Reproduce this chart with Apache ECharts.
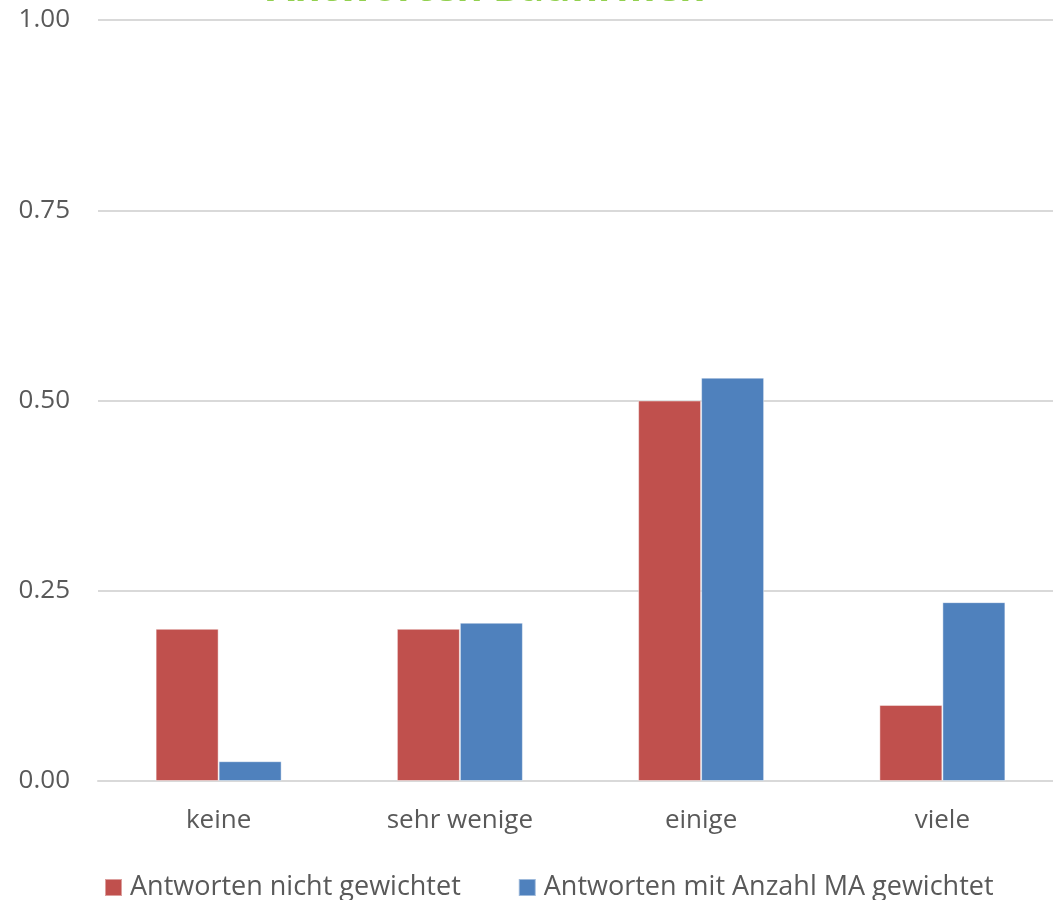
<!DOCTYPE html>
<html>
<head>
<meta charset="utf-8">
<script src="https://cdn.jsdelivr.net/npm/echarts@6/dist/echarts.min.js"></script>
<style>
  html, body { margin: 0; padding: 0; background: #fff; overflow: hidden; }
  /* the plot area runs slightly past the right edge of the window */
  #chart { width: 1063px; height: 900px; }
</style>
</head>
<body>
<div id="chart"></div>
<script>
// Survey answers (share of responses) for the construction companies
const categories = ['keine', 'sehr wenige', 'einige', 'viele'];
const seriesNames = ['Antworten nicht gewichtet', 'Antworten mit Anzahl MA gewichtet'];
const unweighted = [0.20, 0.20, 0.50, 0.10];
const weighted = [0.026, 0.208, 0.530, 0.235];
const titleText = 'Antworten Baufirmen';

const FONT = '"Open Sans", "Liberation Sans", sans-serif';
const chart = echarts.init(document.getElementById('chart'));

chart.setOption({
  animation: false,
  title: {
    text: titleText,
    left: 262,
    top: -35,
    textStyle: { color: '#92D050', fontSize: 40, fontWeight: 'bold', fontFamily: FONT }
  },
  legend: {
    data: seriesNames,
    top: 869,
    left: 99,
    itemWidth: 17,
    itemHeight: 17,
    itemGap: 57,
    icon: 'rect',
    textStyle: { color: '#595959', fontSize: 27, fontFamily: FONT, padding: [0, 0, 0, 3] }
  },
  grid: { left: 98, right: 0, top: 20, bottom: 119, containLabel: false },
  xAxis: {
    type: 'category',
    data: categories,
    axisLine: { lineStyle: { color: '#d9d9d9', width: 2 } },
    axisTick: { show: false },
    axisLabel: { color: '#595959', fontSize: 26, fontFamily: FONT, margin: 27 }
  },
  yAxis: {
    type: 'value',
    min: 0,
    max: 1,
    interval: 0.25,
    axisLine: { show: false },
    axisTick: { show: false },
    splitLine: { lineStyle: { color: '#d9d9d9', width: 2 } },
    axisLabel: {
      color: '#595959', fontSize: 26, fontFamily: FONT, margin: 28,
      formatter: v => v.toFixed(2)
    }
  },
  series: [
    {
      name: seriesNames[0], type: 'bar', data: unweighted,
      barWidth: 63, barGap: '0%',
      itemStyle: { color: '#C0504D', borderColor: 'rgba(255,255,255,0.45)', borderWidth: 1 }
    },
    {
      name: seriesNames[1], type: 'bar', data: weighted,
      barWidth: 63,
      itemStyle: { color: '#4F81BD', borderColor: 'rgba(255,255,255,0.45)', borderWidth: 1 }
    }
  ]
});
</script>
</body>
</html>
